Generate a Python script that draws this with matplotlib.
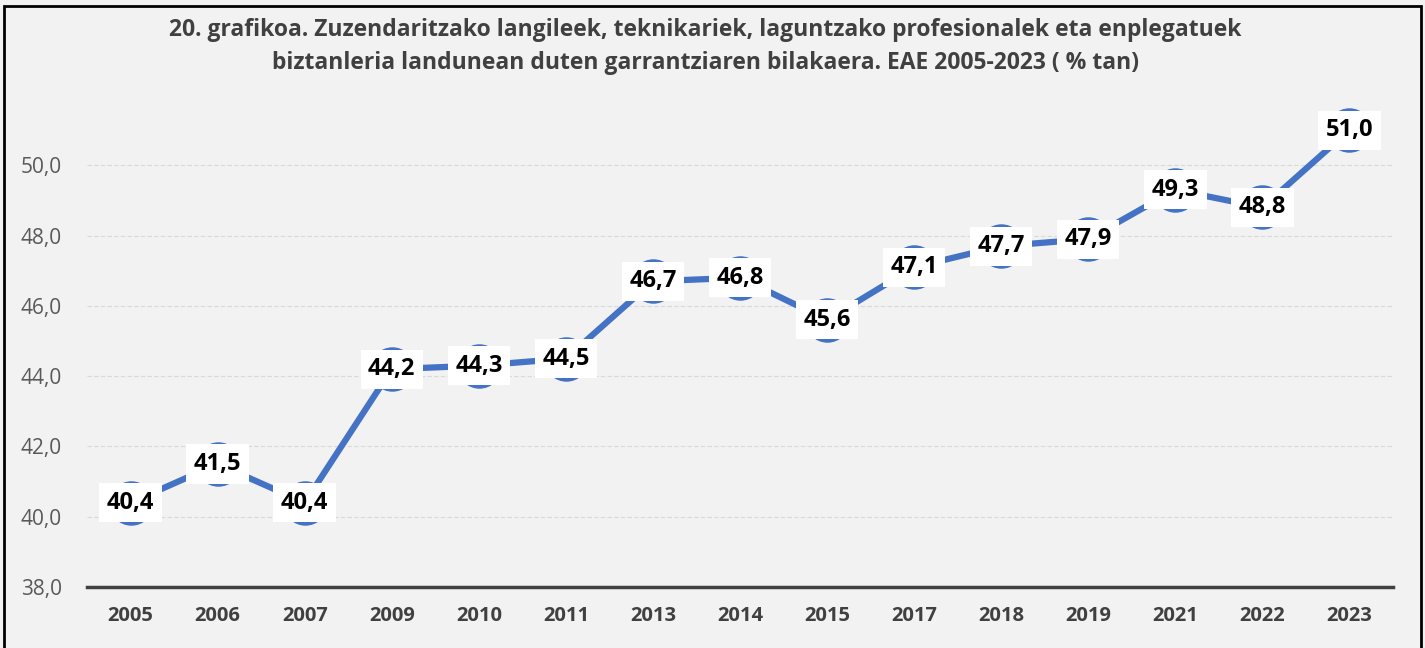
import matplotlib
matplotlib.use('Agg')
import matplotlib.pyplot as plt
from matplotlib.patches import Rectangle

plt.rcParams['font.family'] = ['Open Sans', 'DejaVu Sans']

years = ['2005', '2006', '2007', '2009', '2010', '2011', '2013', '2014', '2015',
         '2017', '2018', '2019', '2021', '2022', '2023']
values = [40.4, 41.5, 40.4, 44.2, 44.3, 44.5, 46.7, 46.8, 45.6,
          47.1, 47.7, 47.9, 49.3, 48.8, 51.0]
yticks = [38, 40, 42, 44, 46, 48, 50]

title = ('20. grafikoa. Zuzendaritzako langileek, teknikariek, laguntzako profesionalek eta enplegatuek\n'
         'biztanleria landunean duten garrantziaren bilakaera. EAE 2005-2023 ( % tan)')

fig = plt.figure(figsize=(14.25, 6.48), dpi=100, facecolor='#f2f2f2')
ax = fig.add_axes([0.0611, 0.0941, 0.9164, 0.7593])
ax.set_facecolor('#f2f2f2')

x = range(len(years))
ax.plot(x, values, color='#4472c4', linewidth=4.5, marker='o', markersize=31,
        markerfacecolor='#4472c4', markeredgecolor='#4472c4', zorder=3)

for i, v in enumerate(values):
    ax.text(i, v, ('%.1f' % v).replace('.', ','), ha='center', va='center',
            fontsize=17, fontweight='bold', color='black', zorder=4,
            bbox=dict(boxstyle='square,pad=0.32', facecolor='white', edgecolor='none'))

ax.set_xlim(-0.5, len(years) - 0.5)
ax.set_ylim(38, 52)
ax.set_yticks(yticks)
ax.set_yticklabels([('%.1f' % t).replace('.', ',') for t in yticks], fontsize=15, color='#595959')
ax.set_xticks(list(x))
ax.set_xticklabels(years, fontsize=14.5, fontweight='bold', color='#404040')
ax.tick_params(axis='both', length=0)
ax.tick_params(axis='x', pad=14)
ax.tick_params(axis='y', pad=18)

ax.grid(axis='y', color='#d9d9d9', linewidth=0.8, linestyle=(0, (4, 2)))
ax.set_axisbelow(True)
for s in ['top', 'right', 'left']:
    ax.spines[s].set_visible(False)
ax.spines['bottom'].set_color('#404040')
ax.spines['bottom'].set_linewidth(2.5)
ax.spines['bottom'].set_zorder(5)

fig.text(0.495, 0.885, title, ha='center', va='bottom', fontsize=16.5,
         fontweight='bold', color='#404040', linespacing=1.45)

fig.patches.append(Rectangle((0.003, -0.05), 0.994, 1.04, transform=fig.transFigure,
                             fill=False, edgecolor='black', linewidth=2))

fig.savefig('out.png', dpi=100, facecolor=fig.get_facecolor())
